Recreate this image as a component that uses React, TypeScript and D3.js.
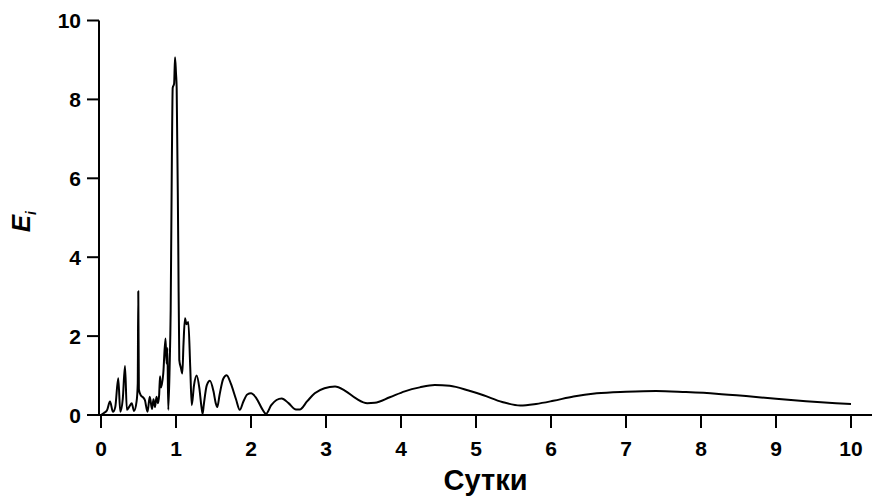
import React, { useEffect, useRef } from "react";
import * as d3 from "d3";

// days (Сутки) and E_i values
const days = [
  0, 0.04, 0.08, 0.12, 0.16, 0.19, 0.23, 0.257, 0.29, 0.32, 0.345, 0.38, 0.41, 0.44,
  0.475, 0.49, 0.497, 0.505, 0.53, 0.56, 0.585, 0.62, 0.65, 0.68, 0.7, 0.72, 0.74,
  0.76, 0.775, 0.787, 0.8, 0.83, 0.86, 0.875, 0.885, 0.897, 0.915, 0.929, 0.945,
  0.956, 0.975, 0.987, 1.0, 1.009, 1.03, 1.044, 1.065, 1.084, 1.1, 1.12, 1.14,
  1.164, 1.19, 1.21, 1.24, 1.275, 1.31, 1.34, 1.355, 1.37, 1.41, 1.453, 1.5, 1.53,
  1.55, 1.58, 1.63, 1.676, 1.73, 1.8, 1.85, 1.9, 1.95, 2.0, 2.07, 2.15, 2.2, 2.27,
  2.34, 2.41, 2.5, 2.6, 2.65, 2.75, 2.85, 2.98, 3.12, 3.25, 3.4, 3.55, 3.65, 3.85,
  4.05, 4.25, 4.45, 4.65, 4.9, 5.1, 5.35, 5.59, 5.8, 6.03, 6.3, 6.61, 7.0, 7.4, 7.8,
  8.2, 8.6, 9.0, 9.4, 9.8, 10.0,
];
const energy = [
  0, 0.05, 0.12, 0.34, 0.08, 0.2, 0.93, 0.08, 0.4, 1.24, 0.13, 0.22, 0.3, 0.1,
  0.35, 0.8, 3.14, 0.65, 0.5, 0.45, 0.38, 0.08, 0.46, 0.15, 0.4, 0.2, 0.46,
  0.3, 0.5, 0.98, 0.7, 1.05, 1.94, 1.3, 1.7, 0.13, 1.2, 2.65, 6.5,
  8.29, 8.4, 9.07, 8.66, 8.29, 4.34, 1.39, 1.2, 1.05, 1.8, 2.45, 2.3,
  2.36, 1.2, 0.25, 0.75, 1.0, 0.7, 0.2, 0.03, 0.25, 0.75, 0.87, 0.6, 0.3,
  0.2, 0.5, 0.92, 1.01, 0.8, 0.4, 0.13, 0.35, 0.52, 0.55, 0.43, 0.15, 0.03, 0.25,
  0.38, 0.42, 0.3, 0.14, 0.14, 0.35, 0.55, 0.68, 0.72, 0.62, 0.42, 0.3, 0.31, 0.45,
  0.6, 0.7, 0.76, 0.74, 0.62, 0.5, 0.33, 0.24, 0.28, 0.36, 0.47, 0.55, 0.59, 0.61, 0.58,
  0.54, 0.48, 0.41, 0.35, 0.3, 0.28,
];
const xTicks = [0, 1, 2, 3, 4, 5, 6, 7, 8, 9, 10];
const yTicks = [0, 2, 4, 6, 8, 10];

const App = () => {
  const svgRef = useRef<SVGSVGElement>(null);

  useEffect(() => {
    const width = 874;
    const height = 498;
    const axisLeft = 99;
    const axisRight = 872;
    const axisBottom = 415;
    const font = "'Liberation Sans', Arial, sans-serif";

    const svg = d3.select(svgRef.current)
      .attr("width", width)
      .attr("height", height);
    svg.selectAll("*").remove();

    const x = d3.scaleLinear().domain([0, 10]).range([101, 851]);
    const y = d3.scaleLinear().domain([0, 10]).range([axisBottom, 20.5]);

    // curve
    const line = d3.line<number>()
      .x((d, i) => x(days[i]))
      .y(d => y(d))
      .curve(d3.curveMonotoneX);

    svg.append("path")
      .datum(energy)
      .attr("d", line)
      .attr("fill", "none")
      .attr("stroke", "#000")
      .attr("stroke-width", 2)
      .attr("stroke-linejoin", "round");

    // axes lines
    svg.append("line")
      .attr("x1", axisLeft).attr("x2", axisRight)
      .attr("y1", axisBottom).attr("y2", axisBottom)
      .attr("stroke", "#000").attr("stroke-width", 2);
    svg.append("line")
      .attr("x1", axisLeft).attr("x2", axisLeft)
      .attr("y1", y(10)).attr("y2", axisBottom)
      .attr("stroke", "#000").attr("stroke-width", 2);

    // x ticks
    const gx = svg.append("g");
    gx.selectAll("line").data(xTicks).enter().append("line")
      .attr("x1", d => x(d)).attr("x2", d => x(d))
      .attr("y1", axisBottom).attr("y2", axisBottom + 13)
      .attr("stroke", "#000").attr("stroke-width", 2);
    gx.selectAll("text").data(xTicks).enter().append("text")
      .attr("x", d => x(d)).attr("y", 456)
      .attr("text-anchor", "middle")
      .attr("font-family", font).attr("font-weight", "bold").attr("font-size", 21)
      .text(d => d);

    // y ticks
    const gy = svg.append("g");
    gy.selectAll("line").data(yTicks).enter().append("line")
      .attr("x1", axisLeft - 12).attr("x2", axisLeft)
      .attr("y1", d => y(d)).attr("y2", d => y(d))
      .attr("stroke", "#000").attr("stroke-width", 2);
    gy.selectAll("text").data(yTicks).enter().append("text")
      .attr("x", 81).attr("y", d => y(d) + 7.5)
      .attr("text-anchor", "end")
      .attr("font-family", font).attr("font-weight", "bold").attr("font-size", 21)
      .text(d => d);

    // titles
    svg.append("text")
      .attr("x", (axisLeft + axisRight) / 2).attr("y", 490)
      .attr("text-anchor", "middle")
      .attr("font-family", font).attr("font-weight", "bold").attr("font-size", 29)
      .text("Сутки");

    const yl = svg.append("text")
      .attr("transform", `translate(30,${(y(10) + axisBottom) / 2 + 4}) rotate(-90)`)
      .attr("text-anchor", "middle")
      .attr("font-family", font).attr("font-weight", "bold").attr("font-style", "italic")
      .attr("font-size", 26);
    yl.append("tspan").text("E");
    yl.append("tspan").attr("font-size", 14).attr("dy", 6).text("i");
  }, []);

  return (
    <svg ref={svgRef} style={{ position: "absolute", left: 0, top: 0, background: "#fff" }}></svg>
  );
};

export default App;
